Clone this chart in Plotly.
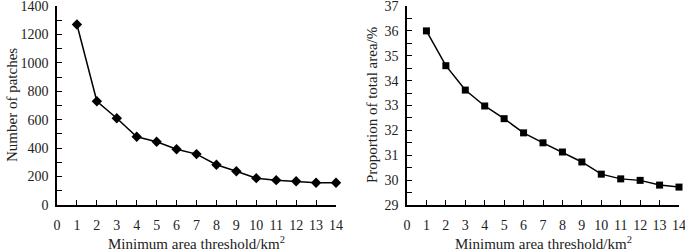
import plotly.graph_objects as go

thresholds = [1, 2, 3, 4, 5, 6, 7, 8, 9, 10, 11, 12, 13, 14]
num_patches = [1270, 730, 610, 480, 445, 392, 358, 283, 237, 189, 175, 167, 157, 157]
proportion = [36.0, 34.6, 33.62, 32.98, 32.47, 31.9, 31.5, 31.13, 30.73, 30.24, 30.05, 29.99, 29.8, 29.72]
x_ticks = list(range(0, 15))

FONT = "Liberation Serif, Times New Roman, serif"
W, H = 685, 251

fig = go.Figure()
fig.add_trace(go.Scatter(x=thresholds, y=num_patches, mode="lines+markers",
                         line=dict(color="black", width=1.5),
                         marker=dict(symbol="diamond", size=8, color="black"),
                         cliponaxis=False, xaxis="x", yaxis="y"))
fig.add_trace(go.Scatter(x=thresholds, y=proportion, mode="lines+markers",
                         line=dict(color="black", width=1.5),
                         marker=dict(symbol="square", size=7, color="black"),
                         cliponaxis=False, xaxis="x2", yaxis="y2"))

def xax(domain, anchor):
    return dict(domain=domain, anchor=anchor, range=[0, 14], tickvals=x_ticks,
                ticktext=[str(v) for v in x_ticks], automargin=False,
                ticklabeloverflow="allow",
                ticks="inside", ticklen=5, tickwidth=1.3, tickcolor="black",
                showline=True, linecolor="black", linewidth=1.5, showgrid=False,
                zeroline=False, ticklabelstandoff=6,
                tickfont=dict(family=FONT, size=14, color="#222"))

def yax(domain, anchor, rng, dtick, minor):
    return dict(domain=domain, anchor=anchor, range=rng, dtick=dtick, tick0=rng[0],
                automargin=False, ticklabeloverflow="allow",
                ticks="inside", ticklen=5, tickwidth=1.3, tickcolor="black",
                minor=dict(dtick=minor, ticks="inside", ticklen=5, tickwidth=1.3, tickcolor="black", showgrid=False),
                showline=True, linecolor="black", linewidth=1.5, showgrid=False,
                zeroline=False, ticklabelstandoff=4,
                tickfont=dict(family=FONT, size=14, color="#222"))

ydom = [(H - 205) / H, (H - 6) / H]
fig.update_layout(
    width=W, height=H, margin=dict(l=0, r=0, t=0, b=0),
    paper_bgcolor="white", plot_bgcolor="white", showlegend=False,
    xaxis=xax([57 / W, 336 / W], "y"),
    yaxis=yax(ydom, "x", [0, 1400], 200, 100),
    xaxis2=xax([407 / W, 679 / W], "y2"),
    yaxis2=yax(ydom, "x2", [29, 37], 1, 0.5),
    annotations=[
        dict(text="Minimum area threshold/km<sup>2</sup>", x=(57 + 336) / 2 / W, y=(H - 243) / H,
             xref="paper", yref="paper", showarrow=False, xanchor="center", yanchor="middle",
             font=dict(family=FONT, size=15, color="#222")),
        dict(text="Minimum area threshold/km<sup>2</sup>", x=(407 + 679) / 2 / W, y=(H - 243) / H,
             xref="paper", yref="paper", showarrow=False, xanchor="center", yanchor="middle",
             font=dict(family=FONT, size=15, color="#222")),
        dict(text="Number of patches", x=12 / W, y=(H - 105) / H, textangle=-90,
             xref="paper", yref="paper", showarrow=False, xanchor="center", yanchor="middle",
             font=dict(family=FONT, size=15, color="#222")),
        dict(text="Proportion of total area/%", x=372 / W, y=(H - 105) / H, textangle=-90,
             xref="paper", yref="paper", showarrow=False, xanchor="center", yanchor="middle",
             font=dict(family=FONT, size=15, color="#222")),
    ],
)

fig.write_html("out.html", config={"displayModeBar": False},
               post_script="document.body.style.margin='0';document.body.style.overflow='hidden';")
